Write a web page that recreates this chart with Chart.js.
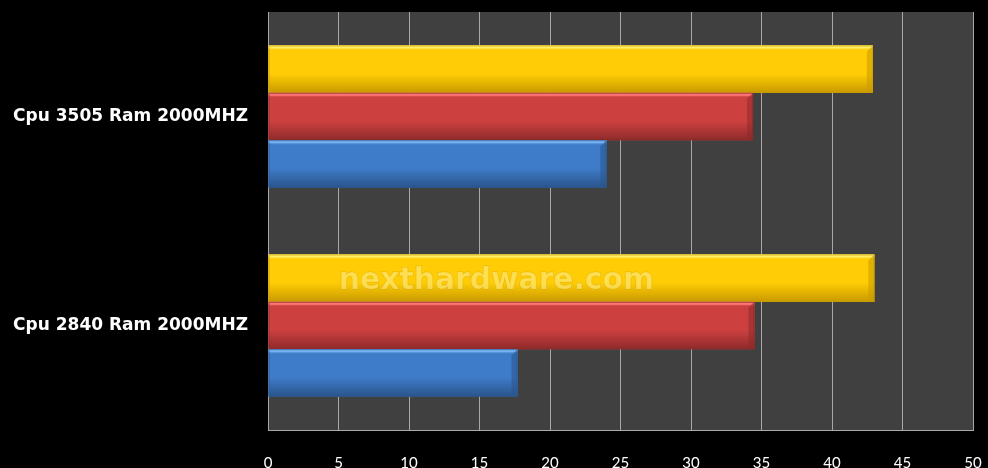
<!DOCTYPE html>
<html>
<head>
<meta charset="utf-8">
<script src="https://cdn.jsdelivr.net/npm/chart.js@4/dist/chart.umd.min.js"></script>
<style>
  html, body { margin: 0; padding: 0; background: #000; }
  #wrap { width: 988px; height: 468px; position: relative; }
</style>
</head>
<body>
<div id="wrap"><canvas id="c" width="988" height="468"></canvas></div>
<script>
const categories = ['Cpu 3505 Ram 2000MHZ', 'Cpu 2840 Ram 2000MHZ'];
const yellowValues = [42.9, 43.0];
const redValues = [34.4, 34.5];
const blueValues = [24.0, 17.7];
const xTickMin = 0;
const xTickMax = 50;
const xTickStep = 5;
const watermarkText = 'nexthardware.com';

const palette = {
  yellow: { base: '#FFCC05', light: '#FFF070', dark: '#C89A00' },
  red:    { base: '#CC4040', light: '#FF7A7A', dark: '#8E2A2A' },
  blue:   { base: '#3E7BC8', light: '#7DB8F5', dark: '#2A558C' }
};

const plotBg = {
  id: 'plotBg',
  beforeDraw(chart) {
    const { ctx, chartArea: a } = chart;
    ctx.save();
    ctx.fillStyle = '#404040';
    ctx.fillRect(a.left, a.top, a.right - a.left, a.bottom - a.top);
    ctx.restore();
  }
};

const bevel = {
  id: 'bevel',
  afterDatasetsDraw(chart) {
    const ctx = chart.ctx;
    chart.data.datasets.forEach((ds, i) => {
      const meta = chart.getDatasetMeta(i);
      const pal = ds._pal;
      meta.data.forEach(bar => {
        const x0 = bar.base, x1 = bar.x;
        const h = bar.height, yT = bar.y - h / 2, yB = bar.y + h / 2;
        ctx.save();
        const g = ctx.createLinearGradient(0, yT, 0, yB);
        g.addColorStop(0, pal.light);
        g.addColorStop(0.1, pal.base);
        g.addColorStop(0.6, pal.base);
        g.addColorStop(1, pal.dark);
        ctx.fillStyle = g;
        ctx.fillRect(x0, yT, x1 - x0, h);
        ctx.fillStyle = pal.light;
        ctx.globalAlpha = 0.8;
        ctx.fillRect(x0, yT, x1 - x0, 3);
        ctx.globalAlpha = 1;
        const bw = 6;
        ctx.beginPath();
        ctx.moveTo(x1 - bw, yT + bw);
        ctx.lineTo(x1, yT);
        ctx.lineTo(x1, yB);
        ctx.lineTo(x1 - bw, yB - 3);
        ctx.closePath();
        ctx.fillStyle = pal.dark;
        ctx.globalAlpha = 0.55;
        ctx.fill();
        ctx.globalAlpha = 1;
        ctx.strokeStyle = pal.dark;
        ctx.globalAlpha = 0.7;
        ctx.lineWidth = 1;
        ctx.strokeRect(x0 + 0.5, yT + 0.5, x1 - x0 - 1, h - 1);
        ctx.restore();
      });
    });
  }
};

const watermark = {
  id: 'watermark',
  afterDraw(chart) {
    const ctx = chart.ctx;
    const a = chart.chartArea;
    const cx = a.left + (a.right - a.left) * 0.324;
    const cy = a.top + (a.bottom - a.top) * 0.643;
    ctx.save();
    ctx.font = 'bold 28px "DejaVu Sans"';
    const w = ctx.measureText(watermarkText).width;
    const size = 28 * 315 / w;
    ctx.font = 'bold ' + size.toFixed(1) + 'px "DejaVu Sans"';
    ctx.textAlign = 'center';
    ctx.textBaseline = 'middle';
    ctx.fillStyle = 'rgba(255, 236, 140, 0.55)';
    ctx.strokeStyle = 'rgba(190, 150, 0, 0.35)';
    ctx.lineWidth = 1;
    ctx.strokeText(watermarkText, cx, cy);
    ctx.fillText(watermarkText, cx, cy);
    ctx.restore();
  }
};

const mk = (label, data, pal) => ({
  label, data, _pal: pal,
  backgroundColor: pal.base,
  borderWidth: 0,
  barPercentage: 1.0,
  categoryPercentage: 0.68
});

const zeroPad = s => { s.paddingLeft = 0; s.paddingRight = 0; s.paddingTop = 0; s.paddingBottom = 0; };

new Chart(document.getElementById('c'), {
  type: 'bar',
  data: {
    labels: categories,
    datasets: [
      mk('Yellow', yellowValues, palette.yellow),
      mk('Red', redValues, palette.red),
      mk('Blue', blueValues, palette.blue)
    ]
  },
  plugins: [plotBg, bevel, watermark],
  options: {
    indexAxis: 'y',
    responsive: false,
    animation: false,
    layout: { padding: { top: 12, right: 15, left: 0, bottom: 0 } },
    plugins: { legend: { display: false }, tooltip: { enabled: false } },
    scales: {
      x: {
        min: xTickMin, max: xTickMax,
        ticks: { stepSize: xTickStep, color: '#FFFFFF', padding: 24,
                 font: { family: 'Lato', size: 15 } },
        grid: { color: '#A8A8A8', lineWidth: 1, drawTicks: false },
        border: { display: true, color: '#A8A8A8' },
        afterFit(s) { s.height = 38; zeroPad(s); }
      },
      y: {
        ticks: { color: '#FFFFFF', padding: 20,
                 font: { family: 'DejaVu Sans', size: 17, weight: 'bold' } },
        grid: { display: false, drawTicks: false },
        border: { display: true, color: '#A8A8A8' },
        afterFit(s) { s.width = 268; zeroPad(s); }
      }
    }
  }
});
</script>
</body>
</html>
